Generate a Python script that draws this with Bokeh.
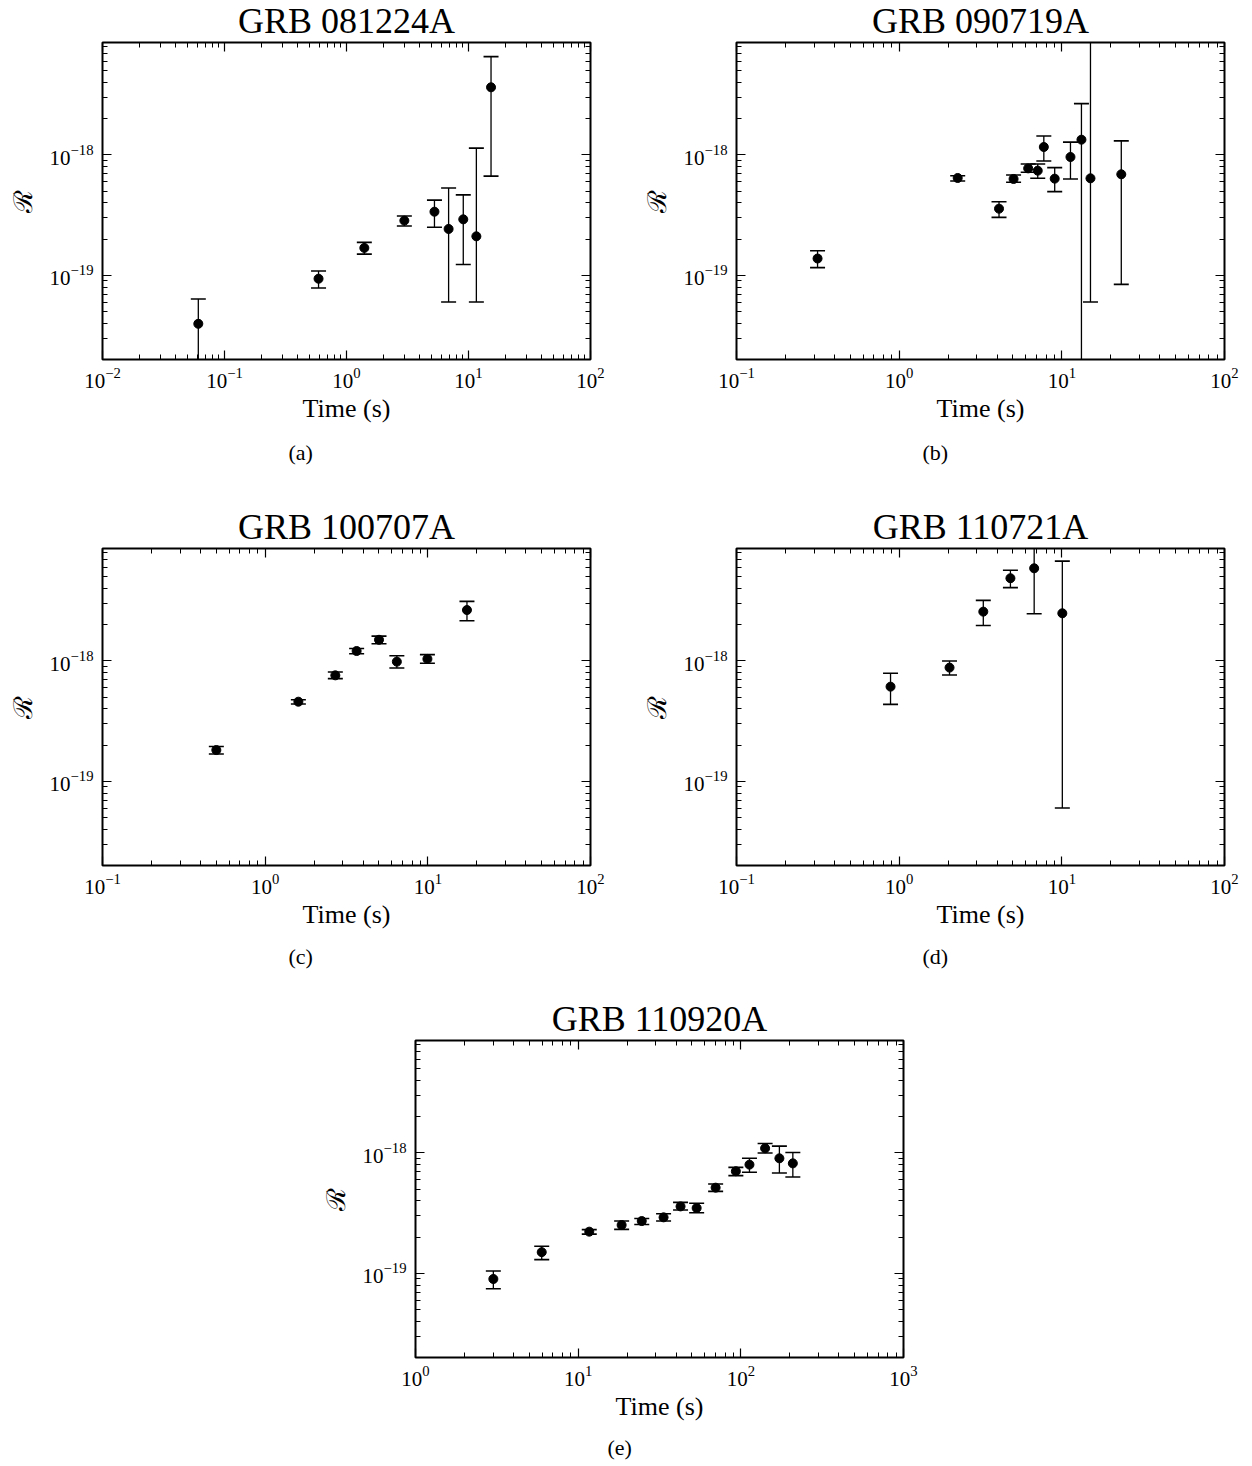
from bokeh.plotting import figure
from bokeh.models import (LogAxis, FixedTicker, Title, ColumnDataSource, Spacer,
                          CustomJSTickFormatter, Range1d)
from bokeh.layouts import column, row
from bokeh.embed import file_html
from bokeh.resources import INLINE

FONT = "Liberation Serif"

# ---------------- data ----------------
title_a, caption_a = "GRB 081224A", "(a)"
t_a = [0.061, 0.59, 1.40, 2.98, 5.26, 6.87, 9.06, 11.6, 15.3]
r_a = [3.96e-20, 9.38e-20, 1.69e-19, 2.85e-19, 3.38e-19, 2.43e-19, 2.92e-19, 2.11e-19, 3.65e-18]
hi_a = [6.36e-20, 1.086e-19, 1.88e-19, 3.11e-19, 4.22e-19, 5.32e-19, 4.66e-19, 1.14e-18, 6.56e-18]
lo_a = [1e-21, 7.85e-20, 1.50e-19, 2.57e-19, 2.51e-19, 6.0e-20, 1.23e-19, 6.0e-20, 6.68e-19]

title_b, caption_b = "GRB 090719A", "(b)"
t_b = [0.315, 2.29, 4.11, 5.05, 6.21, 7.11, 7.75, 9.04, 11.3, 13.2, 15.0, 23.2]
r_b = [1.38e-19, 6.44e-19, 3.58e-19, 6.32e-19, 7.74e-19, 7.41e-19, 1.165e-18, 6.36e-19,
       9.62e-19, 1.34e-18, 6.40e-19, 6.91e-19]
hi_b = [1.60e-19, 6.73e-19, 4.09e-19, 6.82e-19, 8.42e-19, 8.42e-19, 1.44e-18, 7.85e-19,
        1.28e-18, 2.67e-18, 1e-16, 1.31e-18]
lo_b = [1.16e-19, 6.08e-19, 3.03e-19, 5.93e-19, 7.18e-19, 6.40e-19, 8.91e-19, 4.96e-19,
        6.32e-19, 1e-21, 6.0e-20, 8.41e-20]

title_c, caption_c = "GRB 100707A", "(c)"
t_c = [0.501, 1.60, 2.70, 3.65, 5.01, 6.45, 9.94, 17.4]
r_c = [1.82e-19, 4.59e-19, 7.60e-19, 1.21e-18, 1.50e-18, 9.87e-19, 1.04e-18, 2.65e-18]
hi_c = [1.95e-19, 4.77e-19, 8.10e-19, 1.27e-18, 1.61e-18, 1.106e-18, 1.13e-18, 3.13e-18]
lo_c = [1.69e-19, 4.39e-19, 7.13e-19, 1.15e-18, 1.39e-18, 8.75e-19, 9.57e-19, 2.16e-18]

title_d, caption_d = "GRB 110721A", "(d)"
t_d = [0.885, 2.04, 3.29, 4.83, 6.76, 10.07]
r_d = [6.12e-19, 8.81e-19, 2.57e-18, 4.87e-18, 5.89e-18, 2.49e-18]
hi_d = [7.90e-19, 1.0e-18, 3.19e-18, 5.67e-18, 1e-16, 6.76e-18]
lo_d = [4.36e-19, 7.65e-19, 1.97e-18, 4.07e-18, 2.47e-18, 6.0e-20]

title_e, caption_e = "GRB 110920A", "(e)"
t_e = [3.01, 5.97, 11.7, 18.5, 24.6, 33.5, 42.6, 53.5, 70.0, 93.2, 113, 141, 172.6, 208.8]
r_e = [8.98e-20, 1.50e-19, 2.22e-19, 2.52e-19, 2.72e-19, 2.92e-19, 3.60e-19, 3.49e-19,
       5.15e-19, 7.05e-19, 8.0e-19, 1.094e-18, 9.03e-19, 8.2e-19]
hi_e = [1.045e-19, 1.68e-19, 2.31e-19, 2.72e-19, 2.86e-19, 3.13e-19, 3.89e-19, 3.82e-19,
        5.52e-19, 7.60e-19, 9.03e-19, 1.20e-18, 1.14e-18, 1.01e-18]
lo_e = [7.46e-20, 1.30e-19, 2.12e-19, 2.32e-19, 2.55e-19, 2.72e-19, 3.36e-19, 3.19e-19,
        4.80e-19, 6.49e-19, 6.91e-19, 1.0e-18, 6.82e-19, 6.32e-19]

# axis ranges and tick values
x_range_a = (1e-2, 1e2)
x_range_bcd = (1e-1, 1e2)
x_range_e = (1e0, 1e3)
y_range_all = (2e-20, 8.6e-18)
x_ticks_a = [1e-2, 1e-1, 1e0, 1e1, 1e2]
x_ticks_bcd = [1e-1, 1e0, 1e1, 1e2]
x_ticks_e = [1e0, 1e1, 1e2, 1e3]
y_ticks = [1e-20, 1e-19, 1e-18, 1e-17]

x_label = "Time (s)"
y_label = "\u211B"


def minor_of(majors):
    return [k * m for m in majors[:-1] for k in range(2, 10)]


def style_axis(ax, ticks, labels=True):
    ax.ticker = FixedTicker(ticks=ticks, minor_ticks=minor_of(ticks))
    ax.major_tick_in = 9
    ax.major_tick_out = 0
    ax.minor_tick_in = 5
    ax.minor_tick_out = 0
    ax.major_tick_line_color = "black"
    ax.minor_tick_line_color = "black"
    ax.major_tick_line_width = 1.2
    ax.minor_tick_line_width = 1
    ax.axis_line_color = None
    if labels:
        ax.major_label_text_font = FONT
        ax.major_label_text_font_size = "21px"
        ax.major_label_text_color = "black"
        ax.axis_label_text_font = FONT
        ax.axis_label_text_font_style = "normal"
        ax.axis_label_text_color = "black"
        ax.axis_label_text_font_size = "26px"
    else:
        ax.formatter = CustomJSTickFormatter(code="return ''")
        ax.major_label_text_font_size = "0px"
        ax.major_label_standoff = 0


def panel(title, caption, t, r, lo, hi, xr, xt, cap_off, cap_standoff,
          left_border, right_border, bottom_border):
    p = figure(x_axis_type="log", y_axis_type="log",
               x_range=Range1d(*xr), y_range=Range1d(*y_range_all),
               frame_width=488, frame_height=317,
               min_border_left=left_border, min_border_right=right_border,
               min_border_top=42, min_border_bottom=bottom_border,
               output_backend="svg", toolbar_location=None,
               background_fill_color="white", border_fill_color="white")
    p.grid.visible = False
    p.outline_line_color = "black"
    p.outline_line_width = 2

    p.title.text = title
    p.title.text_font = FONT
    p.title.text_font_size = "36px"
    p.title.text_font_style = "normal"
    p.title.text_color = "black"
    p.title.align = "center"
    p.title.vertical_align = "top"
    p.title.standoff = 0

    xa = p.xaxis[0]
    style_axis(xa, xt)
    xa.axis_label = x_label
    xa.major_label_standoff = 8
    xa.axis_label_standoff = 3

    ya = p.yaxis[0]
    style_axis(ya, y_ticks)
    ya.axis_label = y_label
    ya.major_label_standoff = 9
    ya.axis_label_standoff = 9

    top = LogAxis()
    style_axis(top, xt, labels=False)
    p.add_layout(top, "above")
    rgt = LogAxis()
    style_axis(rgt, y_ticks, labels=False)
    p.add_layout(rgt, "right")

    src = ColumnDataSource(dict(t=t, r=r, lo=lo, hi=hi))
    p.segment(x0="t", y0="lo", x1="t", y1="hi", source=src, line_color="black", line_width=1.3)
    p.scatter(x="t", y="hi", source=src, marker="dash", size=15, line_color="black", line_width=1.6)
    p.scatter(x="t", y="lo", source=src, marker="dash", size=15, line_color="black", line_width=1.6)
    p.scatter(x="t", y="r", source=src, marker="circle", size=9, fill_color="black", line_color="black")

    cap = Title(text=caption, align="left", offset=cap_off, vertical_align="middle",
                standoff=cap_standoff, text_font=FONT, text_font_size="22px",
                text_font_style="normal", text_color="black")
    p.add_layout(cap, "below")
    return p


pa = panel(title_a, caption_a, t_a, r_a, lo_a, hi_a, x_range_a, x_ticks_a, 186, 26, 102, 47, 147)
pb = panel(title_b, caption_b, t_b, r_b, lo_b, hi_b, x_range_bcd, x_ticks_bcd, 186, 26, 99, 18, 147)
pc = panel(title_c, caption_c, t_c, r_c, lo_c, hi_c, x_range_bcd, x_ticks_bcd, 186, 22, 102, 47, 133)
pd = panel(title_d, caption_d, t_d, r_d, lo_d, hi_d, x_range_bcd, x_ticks_bcd, 186, 22, 99, 18, 133)
pe = panel(title_e, caption_e, t_e, r_e, lo_e, hi_e, x_range_e, x_ticks_e, 192, 20, 99, 20, 100)

layout = column(row(pa, pb), row(pc, pd), row(Spacer(width=316, height=10), pe))

with open("out.html", "w") as f:
    f.write(file_html(layout, INLINE))
